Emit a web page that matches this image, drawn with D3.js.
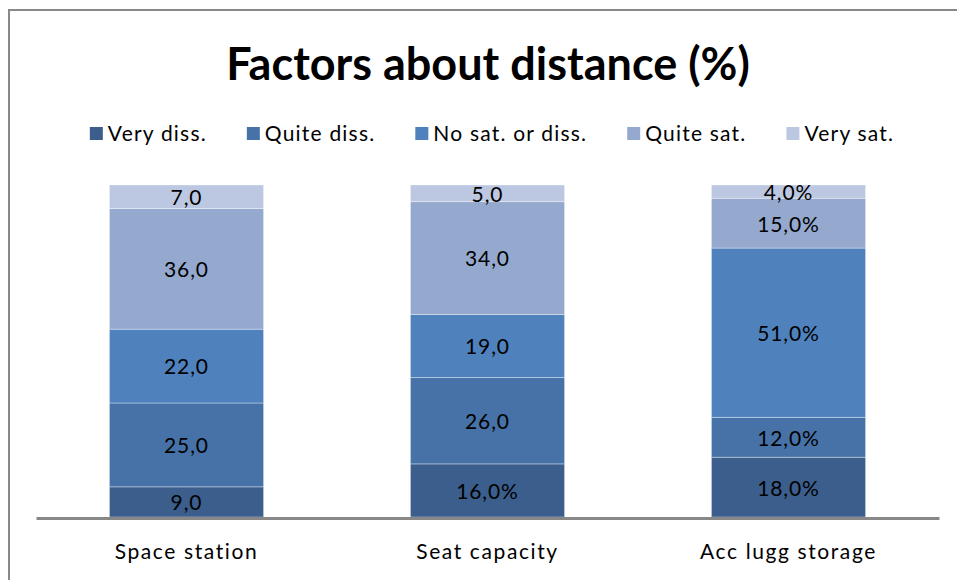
<!DOCTYPE html>
<html>
<head>
<meta charset="utf-8">
<script src="https://cdn.jsdelivr.net/npm/d3@7"></script>
<style>
  body { margin: 0; background: #fff; }
  svg { display: block; font-family: Lato, "Open Sans", sans-serif; }
</style>
</head>
<body>
<div class="chart"></div>
<script>
const categories = ["Space station", "Seat capacity", "Acc lugg storage"];
const seriesNames = ["Very diss.", "Quite diss.", "No sat. or diss.", "Quite sat.", "Very sat."];
const veryDiss = [9, 16, 18];
const quiteDiss = [25, 26, 12];
const noSat = [22, 19, 51];
const quiteSat = [36, 34, 15];
const verySat = [7, 5, 4];
// label text as printed on the chart (mixed formats)
const veryDissLabels = ["9,0", "16,0%", "18,0%"];
const quiteDissLabels = ["25,0", "26,0", "12,0%"];
const noSatLabels = ["22,0", "19,0", "51,0%"];
const quiteSatLabels = ["36,0", "34,0", "15,0%"];
const verySatLabels = ["7,0", "5,0", "4,0%"];
const colors = ["#3b5e8c", "#4672a7", "#4f81bd", "#95a9cf", "#bcc8e1"];

const width = 957, height = 580;

const svg = d3.select(".chart")
  .append("svg")
  .attr("width", width)
  .attr("height", height);

// chart frame
svg.append("rect")
  .attr("x", 9).attr("y", 10)
  .attr("width", 1000).attr("height", 600)
  .attr("fill", "none")
  .attr("stroke", "#888")
  .attr("stroke-width", 2);

const values = [veryDiss, quiteDiss, noSat, quiteSat, verySat];
const labels = [veryDissLabels, quiteDissLabels, noSatLabels, quiteSatLabels, verySatLabels];

const data = categories.map((c, i) => {
  const row = { category: c };
  seriesNames.forEach((s, j) => { row[s] = values[j][i]; });
  return row;
});

// 100% stacked, like the original
const stack = d3.stack().keys(seriesNames).offset(d3.stackOffsetExpand);
const series = stack(data);

const x = d3.scaleBand()
  .domain(categories)
  .range([36, 939])
  .paddingInner(0.488)
  .paddingOuter(0.244);

const y = d3.scaleLinear()
  .domain([0, 1])
  .range([517, 185]);

const layer = svg.selectAll("g.layer")
  .data(series)
  .enter()
  .append("g")
  .attr("class", "layer")
  .attr("fill", (d, i) => colors[i]);

layer.selectAll("rect")
  .data(d => d)
  .enter()
  .append("rect")
  .attr("x", d => x(d.data.category))
  .attr("y", d => y(d[1]))
  .attr("width", x.bandwidth())
  .attr("height", d => y(d[0]) - y(d[1]))
  .attr("stroke", "rgba(255,255,255,0.35)")
  .attr("stroke-width", 1);

layer.selectAll("text")
  .data((d, i) => d.map((p, k) => ({ p: p, label: labels[i][k] })))
  .enter()
  .append("text")
  .attr("x", d => x(d.p.data.category) + x.bandwidth() / 2)
  .attr("y", d => (y(d.p[0]) + y(d.p[1])) / 2)
  .attr("dy", "0.4em")
  .attr("text-anchor", "middle")
  .attr("fill", "#000")
  .style("font-size", "21px")
  .style("letter-spacing", "0.9px")
  .text(d => d.label);

// x axis
const xAxis = svg.append("g")
  .attr("transform", "translate(0,518)")
  .call(d3.axisBottom(x).tickSize(0).tickPadding(26));
xAxis.select(".domain")
  .attr("stroke", "#888")
  .attr("stroke-width", 3);
xAxis.selectAll("text")
  .attr("fill", "#000")
  .style("font-family", "Lato, sans-serif")
  .style("font-size", "21px")
  .style("letter-spacing", "1.6px");

// title
svg.append("text")
  .attr("x", 488)
  .attr("y", 80)
  .attr("text-anchor", "middle")
  .style("font-size", "45px")
  .style("font-weight", "bold")
  .text("Factors about distance (%)");

// legend
const legend = svg.append("g").attr("transform", "translate(0,133)");
const items = legend.selectAll("g")
  .data(seriesNames)
  .enter()
  .append("g");
items.append("rect")
  .attr("width", 13).attr("height", 13)
  .attr("y", -6)
  .attr("fill", (d, i) => colors[i]);
items.append("text")
  .attr("x", 18)
  .attr("dy", "0.4em")
  .style("font-size", "21px")
  .style("letter-spacing", "1.2px")
  .text(d => d);

const gap = 40;
let offset = 0;
const starts = [];
items.each(function () {
  starts.push(offset);
  offset += this.getBBox().width + gap;
});
const total = offset - gap;
const left = 492 - total / 2;
items.attr("transform", (d, i) => `translate(${left + starts[i]},0)`);
</script>
</body>
</html>
